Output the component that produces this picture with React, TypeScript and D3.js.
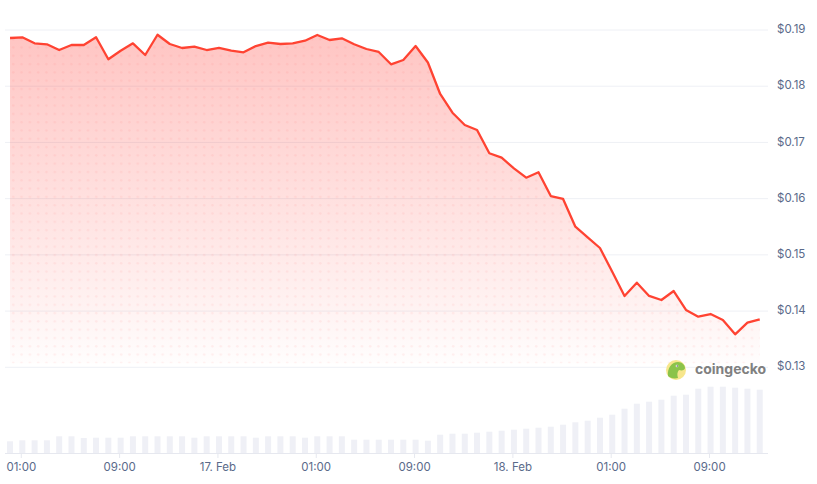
import React from 'react';
import * as d3 from 'd3';

// Hourly price (USD), 16 Feb 00:05 → 18 Feb 13:05
const prices: number[] = [
  0.18858, 0.1887, 0.18763, 0.18746, 0.18644, 0.18733, 0.18733, 0.1887, 0.18479, 0.18632,
  0.18763, 0.18555, 0.18916, 0.18751, 0.1868, 0.18703, 0.18644, 0.1868, 0.18632, 0.18603,
  0.18715, 0.18774, 0.18751, 0.18763, 0.1881, 0.18911, 0.18822, 0.18852, 0.18746, 0.18662,
  0.18609, 0.1839, 0.18466, 0.18715, 0.18422, 0.17862, 0.17529, 0.1731, 0.17221, 0.16807,
  0.16729, 0.1654, 0.16373, 0.16469, 0.16047, 0.15994, 0.15501, 0.15313, 0.15122, 0.14701,
  0.14269, 0.14505, 0.14269, 0.14197, 0.14357, 0.1402, 0.139, 0.13948, 0.13842, 0.13587,
  0.13794, 0.13854,
];

// Hourly volume (relative units)
const volumes: number[] = [
  11.7, 12.7, 12.7, 12.7, 16.7, 16.7, 15, 15.3, 15.3, 15.3,
  16.7, 16.7, 16.7, 16.7, 16.7, 15.3, 16.7, 16.7, 16.7, 16.7,
  15.3, 16.7, 16.7, 16.7, 15.3, 16.7, 16.7, 16.7, 13.3, 13.3,
  13.3, 13.3, 13.3, 13.3, 12.3, 18.3, 19.3, 19.3, 20.3, 21.3,
  22.3, 23.3, 24.3, 25.3, 26.3, 28.3, 30.7, 32.3, 35.3, 38.3,
  44.3, 49.3, 51.3, 53.3, 57.3, 58.3, 64.3, 66.3, 66.3, 65.3,
  64.3, 63.3,
];

const yTicks: number[] = [0.13, 0.14, 0.15, 0.16, 0.17, 0.18, 0.19];
const xTickHours: number[] = [1, 9, 17, 25, 33, 41, 49, 57];
const xTickLabels: string[] = ['01:00', '09:00', '17. Feb', '01:00', '09:00', '18. Feb', '01:00', '09:00'];

const START = Date.UTC(2025, 1, 16, 0, 0);
const HOUR = 3600 * 1000;

export default function App() {
  const W = 817;
  const H = 484;
  const times = prices.map((_, i) => new Date(START + i * HOUR + 5 * 60 * 1000));
  const x = d3
    .scaleUtc()
    .domain([new Date(START), new Date(START + 61 * HOUR)])
    .range([9, 758.7]);
  const y = d3.scaleLinear().domain([0.13, 0.19]).range([367.3, 30]);
  const vy = d3.scaleLinear().domain([0, 70]).range([453, 383]);

  const data = prices.map((p, i) => ({ t: times[i], p, v: volumes[i] }));
  const line = d3
    .line<{ t: Date; p: number }>()
    .x((d) => x(d.t))
    .y((d) => y(d.p));
  const area = d3
    .area<{ t: Date; p: number }>()
    .x((d) => x(d.t))
    .y0(y(0.13) - 4)
    .y1((d) => y(d.p));

  const fontFamily = 'Inter, "Noto Sans", sans-serif';
  const labelColor = '#5a6a8a';

  return (
    <svg
      width={W}
      height={H}
      style={{ position: 'absolute', left: 0, top: 0, background: '#fff' }}
    >
      <defs>
        <linearGradient id="areaGrad2" gradientUnits="userSpaceOnUse" x1={0} y1={30} x2={0} y2={362}>
          <stop offset={0} stopColor="#ff3a33" stopOpacity={0.3} />
          <stop offset={0.85} stopColor="#ff3a33" stopOpacity={0.06} />
          <stop offset={1} stopColor="#ff3a33" stopOpacity={0.01} />
        </linearGradient>
        <pattern id="dots" x={1} y={2} width={8.3} height={8.3} patternUnits="userSpaceOnUse">
          <circle cx={4} cy={4} r={1.3} fill="#ff3a33" fillOpacity={0.07} />
        </pattern>
      </defs>

      {/* grid lines */}
      {yTicks.map((t) => (
        <line key={t} x1={5} x2={768} y1={y(t)} y2={y(t)} stroke="#eef0f5" strokeWidth={1} />
      ))}

      {/* area */}
      <path d={area(data) || ''} fill="url(#areaGrad2)" />
      <path d={area(data) || ''} fill="url(#dots)" />

      {/* volume bars */}
      {data.map((d, i) => (
        <rect
          key={i}
          x={x(d.t) - 3}
          y={vy(d.v)}
          width={6}
          height={vy(0) - vy(d.v)}
          fill="#eff0f6"
        />
      ))}

      {/* line */}
      <path d={line(data) || ''} fill="none" stroke="#ff4332" strokeWidth={2.3} strokeLinejoin="round" />

      {/* x axis */}
      <line x1={5} x2={768} y1={453.5} y2={453.5} stroke="#e6e8ef" strokeWidth={1} />
      {xTickHours.map((h, i) => {
        const tx = x(new Date(START + h * HOUR));
        return (
          <g key={i}>
            <line x1={tx} x2={tx} y1={453} y2={458} stroke="#e6e8ef" strokeWidth={1} />
            <text
              x={tx}
              y={468}
              textAnchor="middle"
              dominantBaseline="middle"
              fontFamily={fontFamily}
              fontSize={11.5}
              fill={labelColor}
            >
              {xTickLabels[i]}
            </text>
          </g>
        );
      })}

      {/* y axis labels */}
      {yTicks.map((t) => (
        <text
          key={t}
          x={777}
          y={y(t)}
          dominantBaseline="middle"
          fontFamily={fontFamily}
          fontSize={11.5}
          fill={labelColor}
        >
          {'$' + t.toFixed(2)}
        </text>
      ))}

      {/* coingecko watermark */}
      <g transform="translate(676,370)">
        <circle r={10} fill="#f7e68c" />
        <path d="M-8,6 C-9,-2 -4,-8 2,-8 C6,-8 9,-5 9,-2 C9,0 6,1 3,0 C1,2 1,5 2,8 C-2,9 -6,8 -8,6 Z" fill="#8bc34a" />
        <circle cx={1} cy={-4} r={1.3} fill="#fff" />
        <circle cx={1.2} cy={-4} r={0.7} fill="#333" />
      </g>
      <text
        x={695}
        y={370}
        dominantBaseline="middle"
        fontFamily={fontFamily}
        fontWeight={700}
        fontSize={14}
        fill="#808080"
      >
        coingecko
      </text>
    </svg>
  );
}
